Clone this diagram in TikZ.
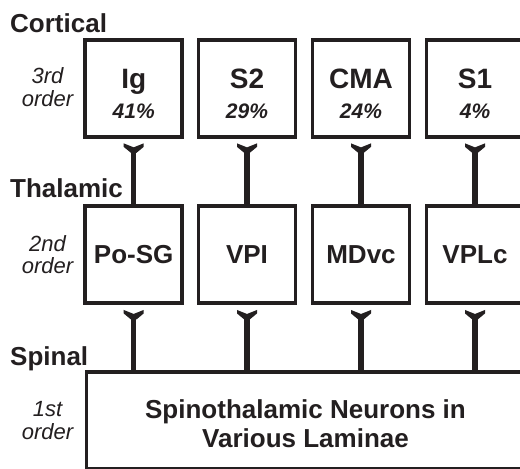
\documentclass[tikz,border=0pt]{standalone}
\usepackage{fontspec}
\setmainfont{Liberation Sans}
\definecolor{ink}{RGB}{35,31,32}
\begin{document}
\begin{tikzpicture}[x=1pt,y=-1pt,
  box/.style={draw=ink, line width=3.5pt, minimum width=97pt, minimum height=97pt, inner sep=0pt, text=ink},
  conn/.style={draw=ink, line width=5.5pt},
  termpic/.pic={\fill[ink] (-10,0) -- (0,4) -- (10,0) -- (10,3.5) -- (2.75,9.5) -- (-2.75,9.5) -- (-10,3.5) -- cycle;},
  head/.style={font=\fontsize{26}{30}\selectfont\bfseries, anchor=base west, inner sep=0pt, text=ink},
  ord/.style={font=\fontsize{22}{24}\selectfont\itshape, anchor=base, inner sep=0pt, text=ink},
  big/.style={font=\fontsize{28}{30}\selectfont\bfseries, anchor=base, inner sep=0pt, text=ink},
  mid/.style={font=\fontsize{26}{30}\selectfont\bfseries},
  pct/.style={font=\fontsize{21}{24}\selectfont\bfseries\itshape, anchor=base, inner sep=0pt, text=ink},
  txt/.style={font=\fontsize{26}{30}\selectfont\bfseries, anchor=base, inner sep=0pt, text=ink},
]
\clip (0,0) rectangle (520,469);
\fill[white] (0,0) rectangle (520,469);

% headings
\node[head] (hcort) at (10,32) {Cortical};
\node[head] (hthal) at (10,197) {Thalamic};
\node[head] (hspin) at (10,365.5) {Spinal};

% order labels
\node[ord] (o3a) at (47.5,83.5) {3rd};
\node[ord] (o3b) at (47.5,106.5) {order};
\node[ord] (o2a) at (47.5,251.5) {2nd};
\node[ord] (o2b) at (47.5,273.5) {order};
\node[ord] (o1a) at (47.5,416.5) {1st};
\node[ord] (o1b) at (47.5,439.5) {order};

% cortical boxes
\node[box] (ig)  at (133.7,88.3) {};
\node[box] (s2)  at (247,88.3) {};
\node[box] (cma) at (361,88.3) {};
\node[box] (s1)  at (475,88.3) {};
\node[big] (tig)  at (133.7,88.3) {Ig};
\node[big] (ts2)  at (247,88.3) {S2};
\node[big] (tcma) at (361,88.3) {CMA};
\node[big] (ts1)  at (475,88.3) {S1};
\node[pct] (pig)  at (133.7,118.3) {41\%};
\node[pct] (ps2)  at (247,118.3) {29\%};
\node[pct] (pcma) at (361,118.3) {24\%};
\node[pct] (ps1)  at (475,118.3) {4\%};

% thalamic boxes
\node[box,mid] (posg) at (133.7,254.7) {Po-SG};
\node[box,mid] (vpi)  at (247,254.7) {VPI};
\node[box,mid] (mdvc) at (361,254.7) {MDvc};
\node[box,mid] (vplc) at (475,254.7) {VPLc};

% spinal box
\node[box, minimum width=473pt] (spin) at (323.2,420.5) {};
\node[txt] (st1) at (305.5,418) {Spinothalamic Neurons in};
\node[txt] (st2) at (305.5,447) {Various Laminae};

% connectors
\foreach \a/\b in {ig/posg, s2/vpi, cma/mdvc, s1/vplc}{
  \draw[conn] ([yshift=-10pt]\a.south) -- (\b.north);
  \pic at ([yshift=-4.8pt]\a.south) {termpic};
}
\foreach \a in {posg, vpi, mdvc, vplc}{
  \draw[conn] ([yshift=-10pt]\a.south) -- (\a |- spin.north);
  \pic at ([yshift=-5pt]\a.south) {termpic};
}
\end{tikzpicture}
\end{document}
